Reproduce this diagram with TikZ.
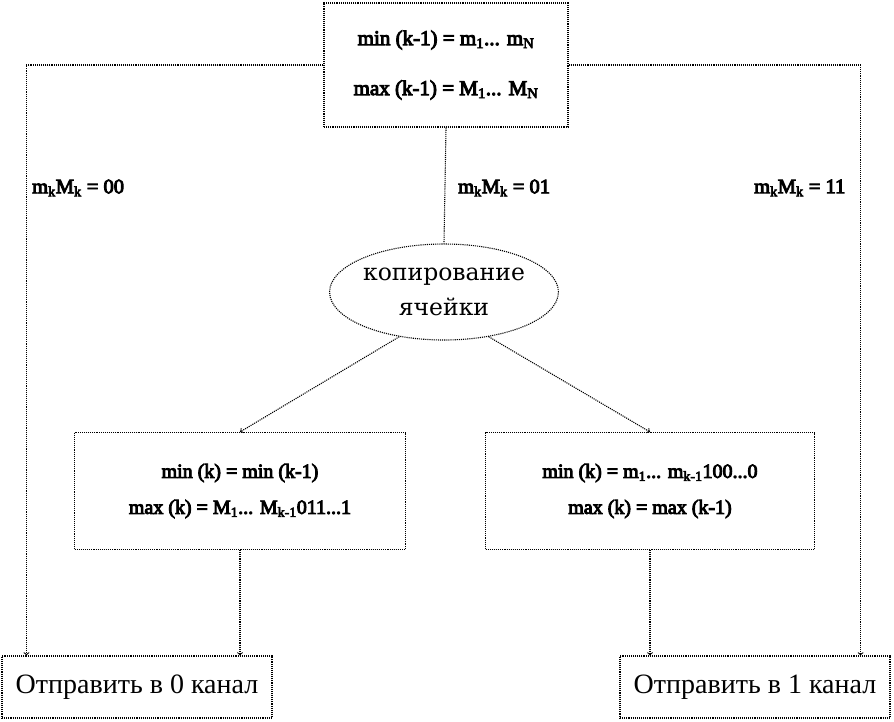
\documentclass[tikz,border=0pt]{standalone}
\usepackage{fontspec}
\setmainfont[BoldFont={Liberation Serif},BoldFeatures={FakeBold=4.5}]{Liberation Serif}
\newfontfamily\ellfont{DejaVu Serif}
\usepackage{tikz}
\usetikzlibrary{positioning,shapes.geometric}

\begin{document}
\begin{tikzpicture}[x=1pt,y=1pt]
	\tikzstyle{ln}=[densely dotted, line width=1.1pt];
	\tikzstyle{cbox}=[draw, ln, shape=rectangle, align=center, font=\fontsize{20}{36}\selectfont\bfseries];
	\tikzstyle{obox}=[draw, ln, shape=rectangle, inner sep=0pt, font=\fontsize{28}{30}\selectfont];
	\tikzstyle{lnode}=[anchor=west, inner sep=0pt, font=\fontsize{20.5}{22}\selectfont\bfseries];

	\useasboundingbox (0,0) rectangle (894,-721);

	\node[cbox, minimum width=244, minimum height=124, font=\fontsize{21}{50}\selectfont\bfseries] (prev) at (446,-65)
		{min (k-1) = m\textsubscript{1}... m\textsubscript{N}\\max (k-1) = M\textsubscript{1}... M\textsubscript{N}};

	\node[draw, ln, shape=ellipse, minimum width=220, minimum height=96, inner sep=0pt, align=center,
		font=\fontsize{23.5}{35}\selectfont\ellfont] (copy) at (444,-292) {копирование\\ячейки};

	\node[cbox, minimum width=331, minimum height=117] (new0) at (240,-491)
		{min (k) = min (k-1)\\max (k) = M\textsubscript{1}... M\textsubscript{k-1}011...1};
	\node[cbox, minimum width=329, minimum height=117] (new1) at (650,-491)
		{min (k) = m\textsubscript{1}... m\textsubscript{k-1}100...0\\max (k) = max (k-1)};

	\node[obox, minimum width=270, minimum height=62] (ch0) at (137,-687) {Отправить в 0 канал};
	\node[obox, minimum width=270, minimum height=62] (ch1) at (755,-687) {Отправить в 1 канал};

	\node[lnode] (l00) at (32,-188) {m\textsubscript{k}M\textsubscript{k} = 00};
	\node[lnode] (l01) at (458,-188) {m\textsubscript{k}M\textsubscript{k} = 01};
	\node[lnode] (l11) at (754,-188) {m\textsubscript{k}M\textsubscript{k} = 11};

	\draw[ln,->] (prev.west) -| ([xshift=25]ch0.north west);
	\draw[ln,->] (prev.east) -| ([xshift=-30]ch1.north east);
	\draw[ln] (prev.south) -- (copy.north);
	\draw[ln,->] (copy.225) -- (new0.north);
	\draw[ln,->] (copy.315) -- (new1.north);
	\draw[ln,->] (new0.south) -- (new0.south |- ch0.north);
	\draw[ln,->] (new1.south) -- (new1.south |- ch1.north);

\end{tikzpicture}
\end{document}
